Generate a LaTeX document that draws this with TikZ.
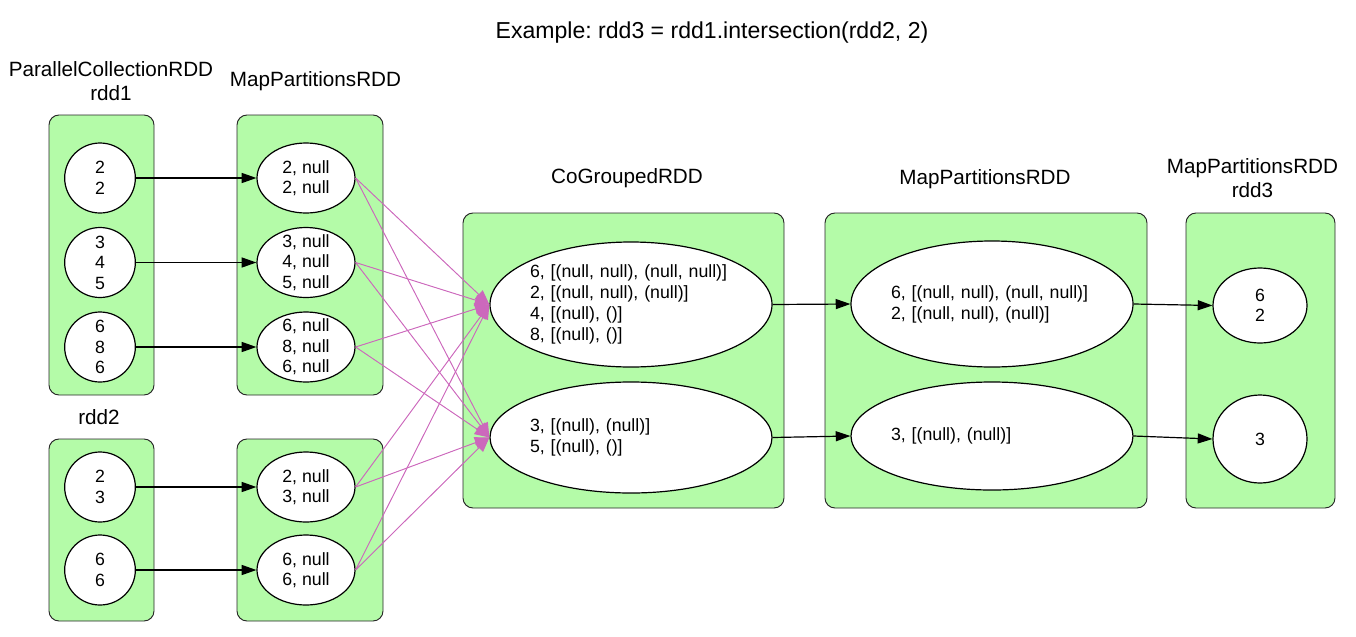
\documentclass[tikz,border=0pt]{standalone}
\usepackage{fontspec}
\setmainfont{Liberation Sans}
\usepackage{tikz}
\usetikzlibrary{shapes.geometric,arrows.meta}
\usepackage{xcolor}
\definecolor{rddgreen}{RGB}{180,251,168}
\definecolor{shufflepink}{RGB}{204,104,188}
\frenchspacing

\tikzset{
  rddbox/.style={draw=black!85, fill=rddgreen, rounded corners=7.5pt, line width=0.7pt},
  part/.style={ellipse, draw, fill=white, line width=0.9pt, inner sep=-6pt, align=center,
    font=\fontsize{13.3}{15.4}\selectfont},
  smallpart/.style={part, minimum width=53pt, minimum height=52.5pt},
  mappart/.style={part, minimum width=73.5pt, minimum height=52.5pt},
  bigpart/.style={part, minimum width=211.5pt, text width=151.5pt, align=left,
    font=\fontsize{13.3}{15.8}\selectfont},
  rddlabel/.style={align=center, font=\fontsize{15.5}{17.5}\selectfont},
  dep/.style={-{Triangle[length=11pt,width=7.5pt]}, line width=0.9pt},
  shuffle/.style={-{Triangle[length=11pt,width=8.5pt]}, draw=shufflepink, fill=shufflepink, line width=0.7pt}
}

\begin{document}
\begin{tikzpicture}[x=0.75pt,y=-0.75pt]
    \useasboundingbox (0,0) rectangle (1356,636);

    \node[font=\fontsize{17.3}{20}\selectfont] (title) at (712,33) {Example: rdd3 = rdd1.intersection(rdd2, 2)};

    % rdd1 and rdd2
    \draw[rddbox] (49,115) rectangle (154,395);
    \draw[rddbox] (49,439) rectangle (154,621);
    \node[rddlabel] (rdd1label) at (111,81) {ParallelCollectionRDD\\rdd1};
    \node[rddlabel] (rdd2label) at (99,417) {rdd2};
    \node[smallpart] (r1a) at (100,178) {2\\2};
    \node[smallpart] (r1b) at (100,262.5) {3\\4\\5};
    \node[smallpart] (r1c) at (100,347) {6\\8\\6};
    \node[smallpart] (r2a) at (100,487) {2\\3};
    \node[smallpart] (r2b) at (100,570) {6\\6};

    % map side
    \draw[rddbox] (237,115) rectangle (383,395);
    \draw[rddbox] (237,439) rectangle (383,621);
    \node[rddlabel] (map1label) at (315.5,81) {MapPartitionsRDD};
    \node[mappart] (m1a) at (306,178) {2, null\\2, null};
    \node[mappart] (m1b) at (306,262.5) {3, null\\4, null\\5, null};
    \node[mappart] (m1c) at (306,347) {6, null\\8, null\\6, null};
    \node[mappart] (m2a) at (306,487) {2, null\\3, null};
    \node[mappart] (m2b) at (306,570) {6, null\\6, null};

    % cogroup
    \draw[rddbox] (463,213) rectangle (784,508);
    \node[rddlabel] (cglabel) at (627,178) {CoGroupedRDD};
    \node[bigpart, minimum height=93.75pt] (cg1) at (631,304.5)
        {6, [(null, null), (null, null)]\\2, [(null, null), (null)]\\4, [(null), ()]\\8, [(null), ()]};
    \node[bigpart, minimum height=83.25pt] (cg2) at (631,437.5)
        {3, [(null), (null)]\\5, [(null), ()]};

    % filter
    \draw[rddbox] (825,213) rectangle (1147,508);
    \node[rddlabel] (map3label) at (985,179) {MapPartitionsRDD};
    \node[bigpart, minimum height=94.5pt] (m3a) at (992,304)
        {6, [(null, null), (null, null)]\\2, [(null, null), (null)]};
    \node[bigpart, minimum height=81pt] (m3b) at (992,436)
        {3, [(null), (null)]};

    % rdd3
    \draw[rddbox] (1186,213) rectangle (1335,508);
    \node[rddlabel] (rdd3label) at (1252.5,178) {MapPartitionsRDD\\rdd3};
    \node[part, minimum width=70.5pt, minimum height=56.25pt] (r3a) at (1260,305.5) {6\\2};
    \node[part, minimum width=70.5pt, minimum height=66pt] (r3b) at (1260,439) {3};

    \draw[dep] (r1a.east) -- (m1a.west);
    \draw[dep] (r1b.east) -- (m1b.west);
    \draw[dep] (r1c.east) -- (m1c.west);
    \draw[dep] (r2a.east) -- (m2a.west);
    \draw[dep] (r2b.east) -- (m2b.west);

    \draw[shuffle] (m1a.east) -- (cg1.west);
    \draw[shuffle] (m1a.east) -- (cg2.west);
    \draw[shuffle] (m1b.east) -- (cg1.west);
    \draw[shuffle] (m1b.east) -- (cg2.west);
    \draw[shuffle] (m1c.east) -- (cg1.west);
    \draw[shuffle] (m1c.east) -- (cg2.west);
    \draw[shuffle] (m2a.east) -- (cg1.west);
    \draw[shuffle] (m2a.east) -- (cg2.west);
    \draw[shuffle] (m2b.east) -- (cg1.west);
    \draw[shuffle] (m2b.east) -- (cg2.west);

    \draw[dep] (cg1.east) -- (m3a.west);
    \draw[dep] (cg2.east) -- (m3b.west);
    \draw[dep] (m3a.east) -- (r3a.west);
    \draw[dep] (m3b.east) -- (r3b.west);
\end{tikzpicture}
\end{document}
